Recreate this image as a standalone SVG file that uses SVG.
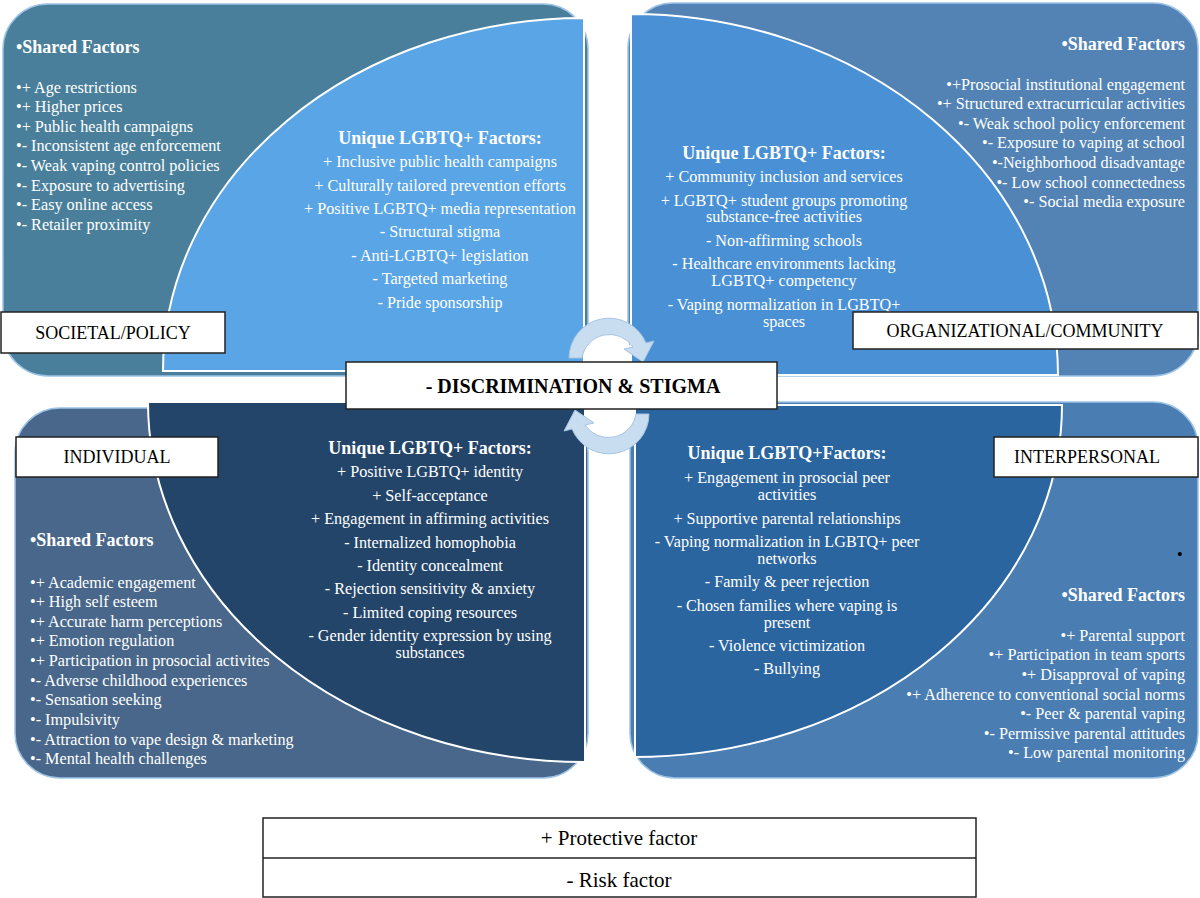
<svg xmlns="http://www.w3.org/2000/svg" width="1200" height="898" viewBox="0 0 1200 898">
<defs>
<style>
.t{font-family:"Liberation Serif","Times New Roman",serif;fill:#fff;font-size:16.2px}
.h{font-family:"Liberation Serif","Times New Roman",serif;fill:#fff;font-size:18px;font-weight:bold}
.c{text-anchor:middle}
.r{text-anchor:end}
.lb{font-family:"Liberation Serif","Times New Roman",serif;fill:#000;font-size:18px;text-anchor:middle}
.box{fill:#fff;stroke:#222;stroke-width:1.5}
.inner{stroke:#fff;stroke-width:2}
.outer{stroke:#9cc3e6;stroke-width:1.5}
.arr{fill:#c8ddf0;stroke:#a6c4e2;stroke-width:1}
</style>
<g id="arrowShape">
<path class="arr" d="M569,358 A40,40 0 0 1 646,343 L654,341 L643,362 L624,349 L633,347 A28,28 0 0 0 582,358 Z"/>
</g>
</defs>
<rect width="1200" height="898" fill="#fff"/>

<g id="societal">
<rect class="outer" x="3" y="4" width="585" height="372" rx="45" fill="#4a7f9b"/>
<path class="inner" d="M584,18 L584,371 L163,371 A421,353 0 0 1 584,18 Z" fill="#5aa5e5"/>
<text class="h" x="16" y="53">•Shared Factors</text>
<text class="t" x="16" y="93">•+ Age restrictions</text>
<text class="t" x="16" y="112">•+ Higher prices</text>
<text class="t" x="16" y="132">•+ Public health campaigns</text>
<text class="t" x="16" y="151">•- Inconsistent age enforcement</text>
<text class="t" x="16" y="171">•- Weak vaping control policies</text>
<text class="t" x="16" y="191">•- Exposure to advertising</text>
<text class="t" x="16" y="210">•- Easy online access</text>
<text class="t" x="16" y="230">•- Retailer proximity</text>
<text class="h c" x="440" y="144">Unique LGBTQ+ Factors:</text>
<text class="t c" x="440" y="167">+ Inclusive public health campaigns</text>
<text class="t c" x="440" y="191">+ Culturally tailored prevention efforts</text>
<text class="t c" x="440" y="214">+ Positive LGBTQ+ media representation</text>
<text class="t c" x="440" y="237">- Structural stigma</text>
<text class="t c" x="440" y="261">- Anti-LGBTQ+ legislation</text>
<text class="t c" x="440" y="284">- Targeted marketing</text>
<text class="t c" x="440" y="308">- Pride sponsorship</text>
<rect class="box" x="1" y="312" width="224" height="41"/>
<text class="lb" x="113" y="339">SOCIETAL/POLICY</text>
</g>

<g id="organizational">
<rect class="outer" x="628" y="3" width="570" height="373" rx="45" fill="#5283b4"/>
<path class="inner" d="M631,14 L631,375 L1058,375 A427,361 0 0 0 631,14 Z" fill="#4a90d5"/>
<text class="h r" x="1185" y="50">•Shared Factors</text>
<text class="t r" x="1185" y="90">•+Prosocial institutional engagement</text>
<text class="t r" x="1185" y="109">•+ Structured extracurricular activities</text>
<text class="t r" x="1185" y="129">•- Weak school policy enforcement</text>
<text class="t r" x="1185" y="148">•- Exposure to vaping at school</text>
<text class="t r" x="1185" y="168">•-Neighborhood disadvantage</text>
<text class="t r" x="1185" y="188">•- Low school connectedness</text>
<text class="t r" x="1185" y="207">•- Social media exposure</text>
<text class="h c" x="784" y="159">Unique LGBTQ+ Factors:</text>
<text class="t c" x="784" y="182">+ Community inclusion and services</text>
<text class="t c" x="784" y="206">+ LGBTQ+ student groups promoting</text>
<text class="t c" x="784" y="222">substance-free activities</text>
<text class="t c" x="784" y="246">- Non-affirming schools</text>
<text class="t c" x="784" y="269">- Healthcare environments lacking</text>
<text class="t c" x="784" y="286">LGBTQ+ competency</text>
<text class="t c" x="784" y="310">- Vaping normalization in LGBTQ+</text>
<text class="t c" x="784" y="327">spaces</text>
<rect class="box" x="853" y="312" width="345" height="37"/>
<text class="lb" x="1025" y="337">ORGANIZATIONAL/COMMUNITY</text>
</g>

<g id="individual">
<rect class="outer" x="15" y="408" width="573" height="370" rx="45" fill="#48678a"/>
<path class="inner" d="M148,402 L585,402 L585,762 A437,360 0 0 1 148,402 Z" fill="#234569"/>
<text class="h" x="30" y="546">•Shared Factors</text>
<text class="t" x="30" y="588">•+ Academic engagement</text>
<text class="t" x="30" y="607">•+ High self esteem</text>
<text class="t" x="30" y="627">•+ Accurate harm perceptions</text>
<text class="t" x="30" y="646">•+ Emotion regulation</text>
<text class="t" x="30" y="666">•+ Participation in prosocial activites</text>
<text class="t" x="30" y="686">•- Adverse childhood experiences</text>
<text class="t" x="30" y="705">•- Sensation seeking</text>
<text class="t" x="30" y="725">•- Impulsivity</text>
<text class="t" x="30" y="745">•- Attraction to vape design &amp; marketing</text>
<text class="t" x="30" y="764">•- Mental health challenges</text>
<text class="h c" x="430" y="454">Unique LGBTQ+ Factors:</text>
<text class="t c" x="430" y="477">+ Positive LGBTQ+ identity</text>
<text class="t c" x="430" y="501">+ Self-acceptance</text>
<text class="t c" x="430" y="524">+ Engagement in affirming activities</text>
<text class="t c" x="430" y="548">- Internalized homophobia</text>
<text class="t c" x="430" y="571">- Identity concealment</text>
<text class="t c" x="430" y="594">- Rejection sensitivity &amp; anxiety</text>
<text class="t c" x="430" y="618">- Limited coping resources</text>
<text class="t c" x="430" y="641">- Gender identity expression by using</text>
<text class="t c" x="430" y="658">substances</text>
<rect class="box" x="16" y="437" width="202" height="40"/>
<text class="lb" x="117" y="463">INDIVIDUAL</text>
</g>

<g id="interpersonal">
<rect class="outer" x="630" y="402" width="568" height="376" rx="45" fill="#4a7db1"/>
<path class="inner" d="M635,405 L1062,405 A427,352 0 0 1 635,757 Z" fill="#2b65a0"/>
<text class="h c" x="787" y="459">Unique LGBTQ+Factors:</text>
<text class="t c" x="787" y="483">+ Engagement in prosocial peer</text>
<text class="t c" x="787" y="500">activities</text>
<text class="t c" x="787" y="524">+ Supportive parental relationships</text>
<text class="t c" x="787" y="547">- Vaping normalization in LGBTQ+ peer</text>
<text class="t c" x="787" y="564">networks</text>
<text class="t c" x="787" y="587">- Family &amp; peer rejection</text>
<text class="t c" x="787" y="611">- Chosen families where vaping is</text>
<text class="t c" x="787" y="628">present</text>
<text class="t c" x="787" y="651">- Violence victimization</text>
<text class="t c" x="787" y="674">- Bullying</text>
<text class="t" x="1177" y="560" style="fill:#000">•</text>
<text class="h r" x="1185" y="601">•Shared Factors</text>
<text class="t r" x="1185" y="641">•+ Parental support</text>
<text class="t r" x="1185" y="660">•+ Participation in team sports</text>
<text class="t r" x="1185" y="680">•+ Disapproval of vaping</text>
<text class="t r" x="1185" y="700">•+ Adherence to conventional social norms</text>
<text class="t r" x="1185" y="719">•- Peer &amp; parental vaping</text>
<text class="t r" x="1185" y="739">•- Permissive parental attitudes</text>
<text class="t r" x="1185" y="758">•- Low parental monitoring</text>
<rect class="box" x="994" y="437" width="204" height="40"/>
<text class="lb" x="1087" y="463">INTERPERSONAL</text>
</g>

<g id="connectors">
<use href="#arrowShape"/>
<use href="#arrowShape" transform="rotate(180 609 386)"/>
</g>

<g id="center">
<rect class="box" x="346" y="362" width="431" height="47"/>
<text class="lb" x="573" y="393" style="font-weight:bold;font-size:20px">- DISCRIMINATION &amp; STIGMA</text>
</g>

<g id="legend">
<rect class="box" x="263" y="818" width="713" height="79"/>
<line x1="263" y1="858" x2="976" y2="858" stroke="#222" stroke-width="1.5"/>
<text class="lb" x="619" y="845" style="font-size:21px">+ Protective factor</text>
<text class="lb" x="619" y="887" style="font-size:21px">- Risk factor</text>
</g>
</svg>
